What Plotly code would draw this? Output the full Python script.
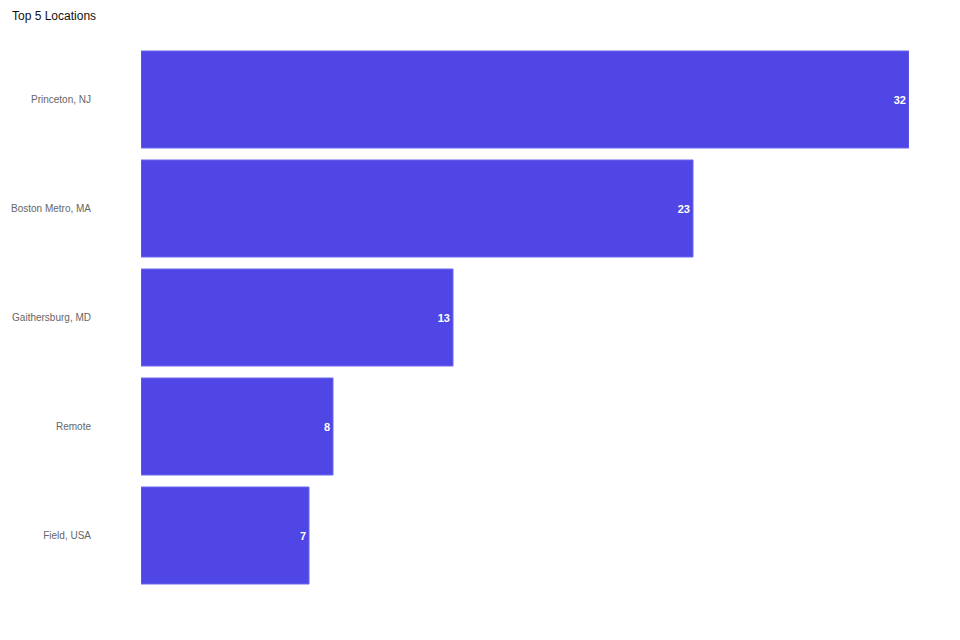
import plotly.graph_objects as go

locations = ["Princeton, NJ", "Boston Metro, MA", "Gaithersburg, MD", "Remote", "Field, USA"]
counts = [32, 23, 13, 8, 7]

fig = go.Figure(go.Bar(
    x=counts,
    y=locations,
    orientation="h",
    marker=dict(color="#4f46e5", line=dict(color="#6d66ee", width=1)),
    text=[str(c) for c in counts],
    textposition="inside",
    insidetextanchor="end",
    textfont=dict(color="white", size=11, family="Liberation Sans, Arial, sans-serif", weight="bold"),
    cliponaxis=False,
    hoverinfo="skip",
))

fig.update_layout(
    width=960,
    height=640,
    paper_bgcolor="white",
    plot_bgcolor="white",
    margin=dict(l=133, r=59, t=37, b=58, autoexpand=False),
    bargap=0.11,
    showlegend=False,
    font=dict(family="Liberation Sans, Arial, sans-serif"),
    title=dict(text="Top 5 Locations", x=4 / 960, xref="container", xanchor="left",
               y=1, yref="container", yanchor="top", pad=dict(l=0, t=4),
               font=dict(size=12, color="#111111")),
)
fig.update_xaxes(range=[0, 32], showgrid=False, showticklabels=False, zeroline=False,
                 showline=False, ticks="", automargin=False)
fig.update_yaxes(autorange="reversed", showgrid=False, zeroline=False, showline=False,
                 ticks="", ticklabelstandoff=49, automargin=False,
                 tickfont=dict(size=10, color="#666666"))

fig.write_html("out.html")
